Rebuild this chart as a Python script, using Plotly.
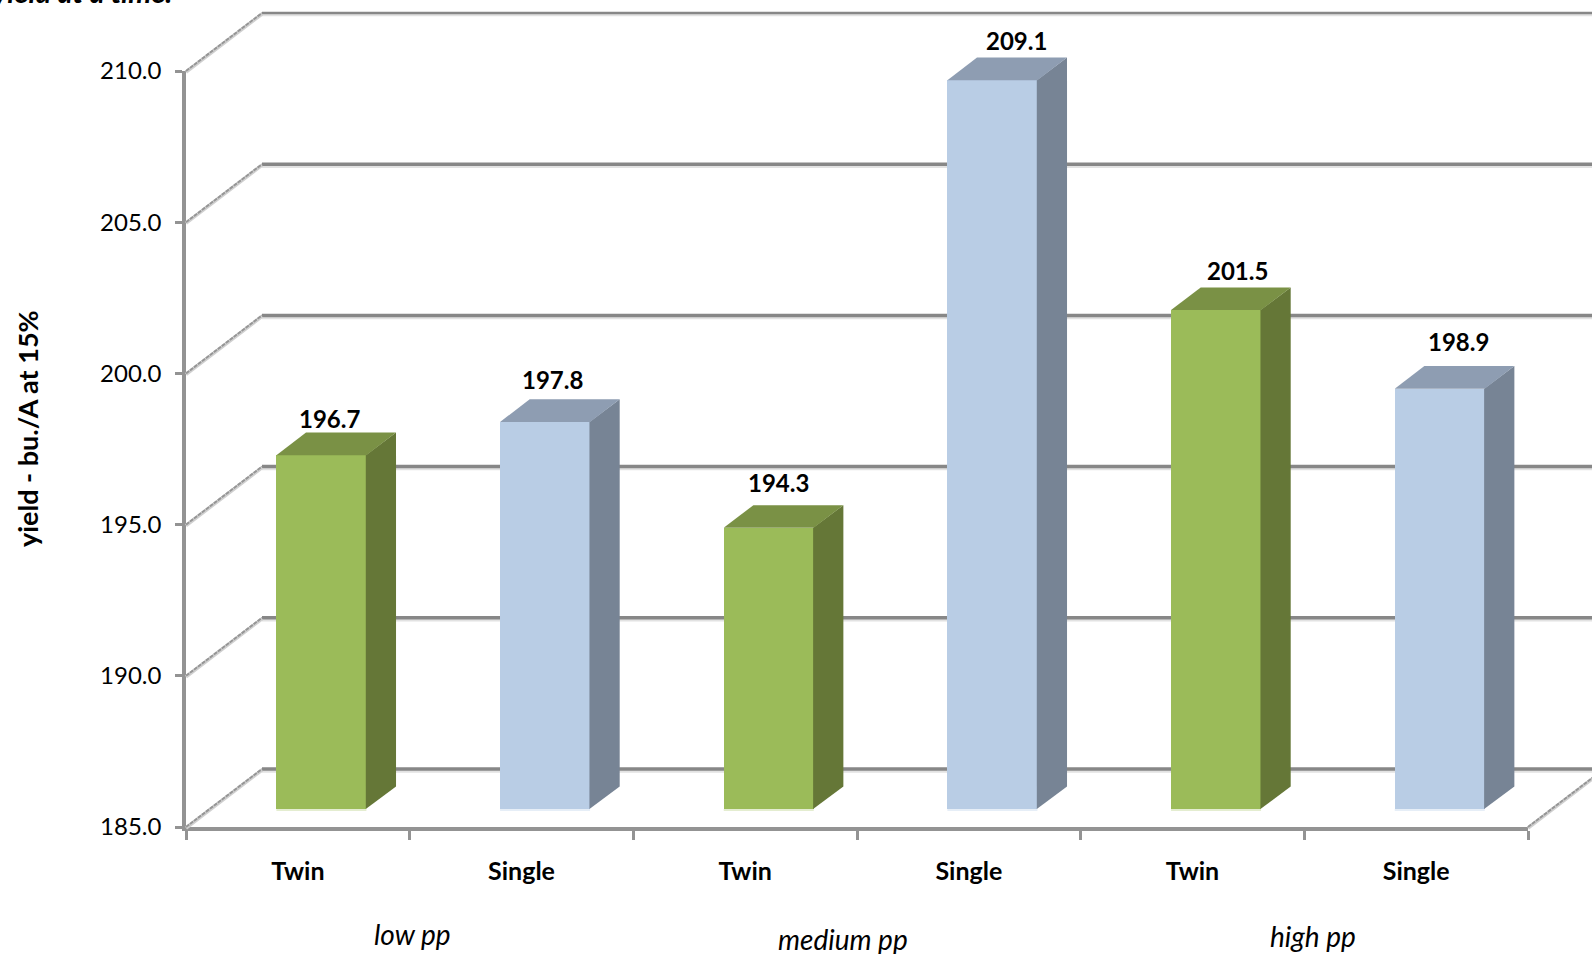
import plotly.graph_objects as go

# ---- data ----
bar_labels = ["Twin", "Single", "Twin", "Single", "Twin", "Single"]
yields = [196.7, 197.8, 194.3, 209.1, 201.5, 198.9]
value_ticks = [185, 190, 195, 200, 205, 210]
group_names = ["low pp", "medium pp", "high pp"]
y_title = "yield - bu./A at 15%"
cut_title = "yield at a time."

# ---- style / layout ----
W, H = 1592, 954
AX_L, AX_R, AX_T, AX_B = 186, 1528, 71, 827
PX_PER_CAT = (AX_R - AX_L) / 6
PX_PER_VAL = (AX_B - AX_T) / 25
DEPTH_X = 76 / PX_PER_CAT
DEPTH_Y = 58 / PX_PER_VAL
F_FRONT, F_BACK = 0.31, 0.70
BAR_W = 90 / PX_PER_CAT
FONT = "Lato"
GRID = "#878787"
AXIS = "#939393"
colors = {
    "Twin": dict(front="#9BBB59", side="#657737", top="#7A9145", edge="#E4EDD0"),
    "Single": dict(front="#B9CDE5", side="#778495", top="#8E9DB2", edge="#E6EEF7"),
}
label_nudge_px = [(8, 37), (7, 42), (10, 45), (24, 40), (21, 40), (19, 47)]
group_pos_px = [(412, 934), (843, 939), (1313, 936)]

x_min, x_max = -AX_L / PX_PER_CAT, (W - AX_L) / PX_PER_CAT
y_min, y_max = 185 - (H - AX_B) / PX_PER_VAL, 185 + AX_B / PX_PER_VAL


def px(x, f=0.0):
    return x + f * DEPTH_X


def py(v, f=0.0):
    return v + f * DEPTH_Y


fig = go.Figure()

# invisible trace so the visible axes exist
fig.add_trace(go.Scatter(x=[0.5], y=[value_ticks[0]], mode="markers", marker=dict(opacity=0),
                         xaxis="x", yaxis="y", hoverinfo="skip", showlegend=False))

shapes = []
for t in value_ticks:
    # shadow + back-wall line
    w = 2.5 if t == value_ticks[-1] else 3.5
    shapes.append(dict(type="line", xref="x2", yref="y2", layer="below", x0=px(0, 1), x1=x_max + 1,
                       y0=py(t, 1) - 1.5 / PX_PER_VAL, y1=py(t, 1) - 1.5 / PX_PER_VAL,
                       line=dict(color="#e2e2e2", width=w + 1)))
    shapes.append(dict(type="line", xref="x2", yref="y2", layer="below", x0=px(0, 1), x1=x_max + 1,
                       y0=py(t, 1), y1=py(t, 1), line=dict(color=GRID, width=w)))
    # side-wall line
    shapes.append(dict(type="line", xref="x2", yref="y2", layer="below", x0=px(0), x1=px(0, 1),
                       y0=py(t) - 1 / PX_PER_VAL, y1=py(t, 1) - 1 / PX_PER_VAL,
                       line=dict(color="#d0d0d0", width=3.5)))
    shapes.append(dict(type="line", xref="x2", yref="y2", layer="below", x0=px(0), x1=px(0, 1),
                       y0=py(t), y1=py(t, 1), line=dict(color="#969696", width=2, dash="4px,1px")))
# floor right edge
shapes.append(dict(type="line", xref="x2", yref="y2", layer="below", x0=px(6), x1=px(6, 1),
                   y0=py(value_ticks[0]) - 1 / PX_PER_VAL, y1=py(value_ticks[0], 1) - 1 / PX_PER_VAL,
                   line=dict(color="#d0d0d0", width=3.5)))
shapes.append(dict(type="line", xref="x2", yref="y2", layer="below", x0=px(6), x1=px(6, 1),
                   y0=py(value_ticks[0]), y1=py(value_ticks[0], 1),
                   line=dict(color="#969696", width=2, dash="4px,1px")))

base = value_ticks[0]
for i, (lab, v) in enumerate(zip(bar_labels, yields)):
    c = colors[lab]
    xc = i + 0.5
    x0, x1 = px(xc - BAR_W / 2, F_FRONT), px(xc + BAR_W / 2, F_FRONT)
    d = (F_BACK - F_FRONT)
    x1s = x1 - 0.6 / PX_PER_CAT
    # side face
    fig.add_trace(go.Scatter(
        x=[x1s, x1 + d * DEPTH_X, x1 + d * DEPTH_X, x1s, x1s],
        y=[py(base, F_FRONT), py(base, F_BACK), py(v, F_BACK), py(v, F_FRONT), py(base, F_FRONT)],
        fill="toself", fillcolor=c["side"], mode="lines", line=dict(width=0, color=c["side"]),
        xaxis="x2", yaxis="y2", hoverinfo="skip", showlegend=False))
    # top face
    fig.add_trace(go.Scatter(
        x=[x0, x1, x1 + d * DEPTH_X, x0 + d * DEPTH_X, x0],
        y=[py(v, F_FRONT), py(v, F_FRONT), py(v, F_BACK), py(v, F_BACK), py(v, F_FRONT)],
        fill="toself", fillcolor=c["top"], mode="lines", line=dict(width=0, color=c["top"]),
        xaxis="x2", yaxis="y2", hoverinfo="skip", showlegend=False))
    # pale lower edge
    fig.add_trace(go.Scatter(
        x=[x0, x1], y=[py(base, F_FRONT) - 1 / PX_PER_VAL] * 2, mode="lines",
        line=dict(width=2, color=c["edge"]), xaxis="x2", yaxis="y2",
        hoverinfo="skip", showlegend=False))

# front faces as real bars
fig.add_trace(go.Bar(
    x=[px(i + 0.5, F_FRONT) for i in range(6)],
    y=[v - base for v in yields],
    base=[py(base, F_FRONT)] * 6,
    width=BAR_W,
    marker=dict(color=[colors[l]["front"] for l in bar_labels], line=dict(width=0)),
    xaxis="x2", yaxis="y2", showlegend=False,
    hovertemplate="%{customdata}<extra></extra>", customdata=yields))

annotations = []
for i, v in enumerate(yields):
    nx, ny = label_nudge_px[i]
    annotations.append(dict(
        x=px(i + 0.5, F_FRONT), y=py(v, F_FRONT), xref="x2", yref="y2",
        text=f"<b>{v:.1f}</b>", showarrow=False, xanchor="center", yanchor="middle",
        xshift=nx, yshift=ny, font=dict(family=FONT, size=24, color="black")))
for name, (gx, gy) in zip(group_names, group_pos_px):
    annotations.append(dict(
        x=gx / W, y=1 - gy / H, xref="paper", yref="paper", text=f"<i>{name}</i>",
        showarrow=False, xanchor="center", yanchor="middle",
        font=dict(family=FONT, size=28, color="black")))
annotations.append(dict(
    x=27 / W, y=1 - 429 / H, xref="paper", yref="paper", text=f"<b>{y_title}</b>",
    textangle=-90, showarrow=False, xanchor="center", yanchor="middle",
    font=dict(family=FONT, size=27, color="black")))
annotations.append(dict(
    x=82 / W, y=1, xref="paper", yref="paper", text=f"<b><i>{cut_title}</i></b>",
    showarrow=False, xanchor="center", yanchor="bottom", yshift=-11,
    font=dict(family=FONT, size=29, color="black")))

fig.update_layout(
    template="none",
    width=W, height=H, autosize=False,
    margin=dict(l=0, r=0, t=0, b=0, pad=0),
    paper_bgcolor="white", plot_bgcolor="rgba(0,0,0,0)",
    showlegend=False, bargap=0,
    shapes=shapes, annotations=annotations,
    font=dict(family=FONT, color="black"),
    xaxis=dict(
        domain=[AX_L / W, AX_R / W], range=[0, 6], anchor="y",
        tickmode="array", tickvals=[i + 0.5 for i in range(6)],
        ticktext=[f"<b>{l}</b>" for l in bar_labels],
        ticks="", ticklabelstandoff=19,
        tickfont=dict(family=FONT, size=25, color="black"),
        showgrid=False, zeroline=False, showline=True, linecolor=AXIS, linewidth=3.5,
        automargin=False,
        minor=dict(tickmode="array", tickvals=list(range(7)), ticks="outside", ticklen=9,
                   tickwidth=3, tickcolor=AXIS, showgrid=False),
    ),
    yaxis=dict(
        domain=[1 - AX_B / H, 1 - AX_T / H], range=[value_ticks[0], value_ticks[-1]], anchor="x",
        tickmode="array", tickvals=value_ticks, ticktext=[f"{t:.1f}" for t in value_ticks],
        ticks="outside", ticklen=7, tickwidth=2.5, tickcolor=AXIS, ticklabelstandoff=9,
        tickfont=dict(family=FONT, size=24, color="black"),
        showgrid=False, zeroline=False, showline=True, linecolor=AXIS, linewidth=3.5,
        automargin=False,
    ),
    xaxis2=dict(domain=[0, 1], range=[x_min, x_max], anchor="y2", visible=False),
    yaxis2=dict(domain=[0, 1], range=[y_min, y_max], anchor="x2", visible=False),
)

fig.write_html("out.html", config=dict(displayModeBar=False),
               post_script="document.body.style.margin='0';document.body.style.overflow='hidden';")
